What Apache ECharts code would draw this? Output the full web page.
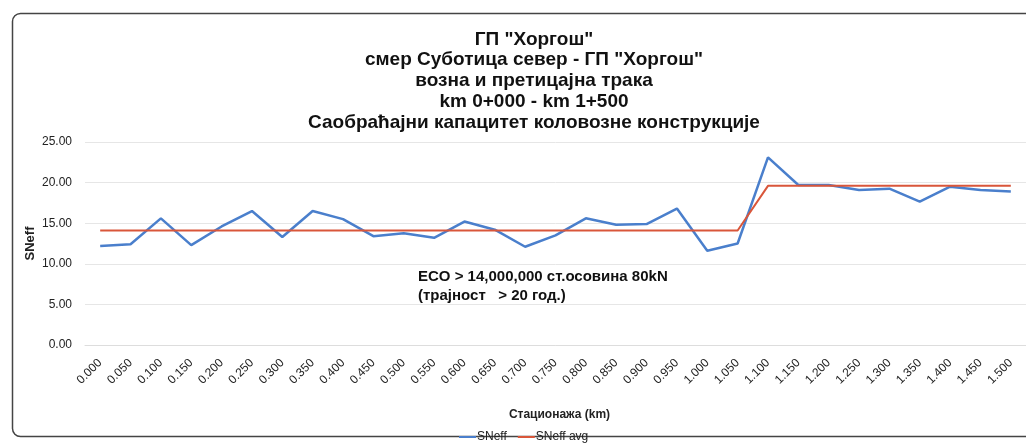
<!DOCTYPE html>
<html>
<head>
<meta charset="utf-8">
<script src="https://cdn.jsdelivr.net/npm/echarts@6/dist/echarts.min.js"></script>
<style>
html,body{margin:0;padding:0;background:#fff;}
#chart{width:1026px;height:445px;}
</style>
</head>
<body>
<div id="chart"></div>
<script>
const categories = ['0.000','0.050','0.100','0.150','0.200','0.250','0.300','0.350','0.400','0.450','0.500','0.550','0.600','0.650','0.700','0.750','0.800','0.850','0.900','0.950','1.000','1.050','1.100','1.150','1.200','1.250','1.300','1.350','1.400','1.450','1.500'];
const sneff = [12.2, 12.4, 15.6, 12.3, 14.6, 16.5, 13.3, 16.5, 15.5, 13.4, 13.75, 13.2, 15.2, 14.2, 12.1, 13.5, 15.6, 14.8, 14.9, 16.8, 11.6, 12.5, 23.1, 19.7, 19.7, 19.1, 19.25, 17.65, 19.5, 19.1, 18.9];
const sneffAvg = [14.1, 14.1, 14.1, 14.1, 14.1, 14.1, 14.1, 14.1, 14.1, 14.1, 14.1, 14.1, 14.1, 14.1, 14.1, 14.1, 14.1, 14.1, 14.1, 14.1, 14.1, 14.1, 19.6, 19.6, 19.6, 19.6, 19.6, 19.6, 19.6, 19.6, 19.6];
const yTicks = [0, 5, 10, 15, 20, 25];
const titleLines = ['ГП "Хоргош"', 'смер Суботица север - ГП "Хоргош"', 'возна и претицајна трака', 'km 0+000 - km 1+500', 'Саобраћајни капацитет коловозне конструкције'];
const noteLines = ['ECO > 14,000,000 ст.осовина 80kN', '(трајност   > 20 год.)'];

const FONT = '"Liberation Sans", Arial, sans-serif';
const chart = echarts.init(document.getElementById('chart'));
chart.setOption({
  animation: false,
  backgroundColor: '#fff',
  textStyle: { fontFamily: FONT },
  title: {
    text: titleLines.join('\n'),
    left: 529,
    top: 24,
    textAlign: 'center',
    textStyle: { fontFamily: FONT, fontSize: 19, fontWeight: 'bold', color: '#111', lineHeight: 20.75 }
  },
  graphic: [
    {
      type: 'rect', left: 10, top: 11,
      shape: { width: 1030, height: 423, r: 8 },
      style: { fill: 'none', stroke: '#444', lineWidth: 1.5 },
      silent: true
    },
    {
      type: 'text', left: 418, top: 268,
      style: { text: noteLines.join('\n'), font: 'bold 15px ' + FONT, fill: '#111', lineHeight: 18.5 }
    }
  ],
  legend: {
    data: [{ name: 'SNeff' }, { name: 'SNeff avg' }],
    bottom: -3,
    left: 454,
    icon: 'rect',
    itemWidth: 17,
    itemHeight: 2,
    itemGap: 11,
    textStyle: { fontFamily: FONT, fontSize: 12, color: '#222', padding: [0, 0, 0, -4] }
  },
  grid: { left: 85, right: -6, top: 142, bottom: 100, containLabel: false },
  xAxis: {
    type: 'category',
    data: categories,
    boundaryGap: true,
    name: 'Стационажа (km)',
    nameLocation: 'middle',
    nameGap: 64,
    nameTextStyle: { fontFamily: FONT, fontSize: 12, fontWeight: 'bold', color: '#222', padding: [0, 0, 0, 8] },
    axisLine: { show: true, lineStyle: { color: '#ddd' } },
    axisTick: { show: false },
    axisLabel: { rotate: 45, interval: 0, fontSize: 12, color: '#222', margin: 16 }
  },
  yAxis: {
    type: 'value',
    min: yTicks[0],
    max: yTicks[yTicks.length - 1],
    interval: 5,
    name: 'SNeff',
    nameLocation: 'middle',
    nameGap: 48,
    nameMoveOverlap: false,
    nameTextStyle: { fontFamily: FONT, fontSize: 13, fontWeight: 'bold', color: '#222' },
    axisLine: { show: false },
    axisTick: { show: false },
    splitLine: { lineStyle: { color: '#e6e6e6' } },
    axisLabel: { formatter: v => v.toFixed(2), fontSize: 12, color: '#222', margin: 13 }
  },
  series: [
    {
      name: 'SNeff', type: 'line', data: sneff,
      symbol: 'none', lineStyle: { color: '#4a7fcc', width: 2.5 }, itemStyle: { color: '#4a7fcc' }
    },
    {
      name: 'SNeff avg', type: 'line', data: sneffAvg,
      symbol: 'none', lineStyle: { color: '#d9563a', width: 2 }, itemStyle: { color: '#d9563a' }
    }
  ]
});
</script>
</body>
</html>
